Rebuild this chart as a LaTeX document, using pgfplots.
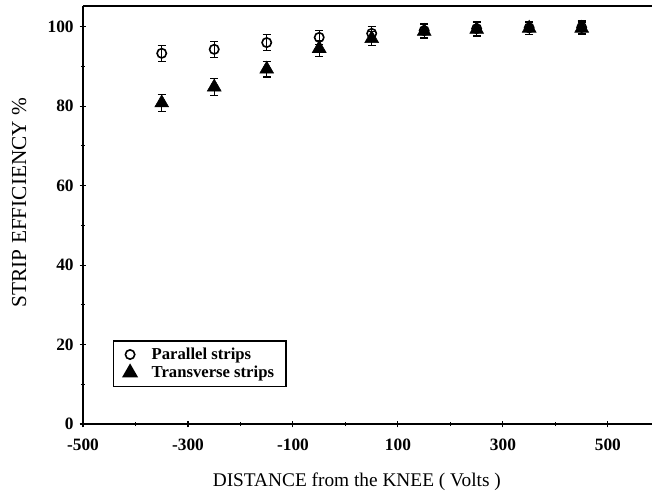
\documentclass[border=0pt]{standalone}
\usepackage{pgfplots}
\pgfplotsset{compat=1.18}
\usepackage{pgfplotstable}
\usepackage{fontspec}
\setmainfont{Liberation Serif}

\pgfplotstableread{
x     y     e
-350  93.3  2.0
-250  94.3  2.0
-150  96.0  2.0
-50   97.3  1.8
50    98.3  1.8
150   99.0  1.8
250   99.5  1.8
350   99.7  1.6
450   99.8  1.6
}\parallel

\pgfplotstableread{
x     y     e
-350  80.8  2.2
-250  84.8  2.2
-150  89.3  2.0
-50   94.5  2.0
50    97.0  1.8
150   98.8  1.8
250   99.3  1.8
350   99.6  1.6
450   99.6  1.6
}\transverse

\begin{document}
\begin{tikzpicture}
\begin{axis}[
scale only axis,
width=426.75pt,
height=313.5pt,
axis x line*=box,
axis y line*=left,
axis line style={line width=1.2pt},
xmin=-500, xmax=584,
ymin=0, ymax=105.2,
xtick={-500,-300,-100,100,300,500},
minor xtick={-400,-200,0,200,400},
ytick={0,20,...,100},
minor ytick={10,30,...,90},
xtick pos=bottom,
ytick pos=left,
tick align=center,
major tick length=5pt,
minor tick length=3pt,
tick style={black, line width=0.8pt},
ticklabel style={font=\bfseries\fontsize{13}{14}\selectfont},
/pgf/number format/assume math mode=true,
xticklabel style={yshift=-5pt},
yticklabel style={xshift=-1pt},
xlabel={DISTANCE from the KNEE ( Volts )},
ylabel={STRIP EFFICIENCY \%},
xlabel style={font=\fontsize{14.5}{16}\selectfont, yshift=-10pt, xshift=-8pt},
ylabel style={font=\fontsize{16}{18}\selectfont, at={(ticklabel cs:0.53)}, yshift=9pt},
legend style={
  at={(0.053,0.20)}, anchor=north west,
  draw=black, line width=1pt,
  font=\bfseries\fontsize{12.5}{14}\selectfont,
  inner xsep=7pt, inner ysep=3pt, row sep=-0.5pt, column sep=9pt,
},
legend cell align=left,
error bars/error bar style={black, line width=1pt},
error bars/error mark options={black, line width=1pt, mark size=3pt, rotate=90},
clip=false,
]
\addplot[
  only marks, mark=o, mark size=3.5pt,
  mark options={black, line width=1.2pt, fill=white},
  error bars/.cd, y dir=both, y explicit,
] table[x=x, y=y, y error=e] {\parallel};
\addlegendentry{Parallel strips}

\addplot[
  only marks, mark=triangle*, mark size=6pt,
  mark options={black, fill=black},
  error bars/.cd, y dir=both, y explicit,
] table[x=x, y=y, y error=e] {\transverse};
\addlegendentry{Transverse strips}

\coordinate (o) at (rel axis cs:0,0);
\end{axis}
\pgfresetboundingbox
\path[use as bounding box] ([shift={(-62.25pt,-49.5pt)}]o) rectangle ([shift={(426.75pt,318pt)}]o);
\end{tikzpicture}
\end{document}
